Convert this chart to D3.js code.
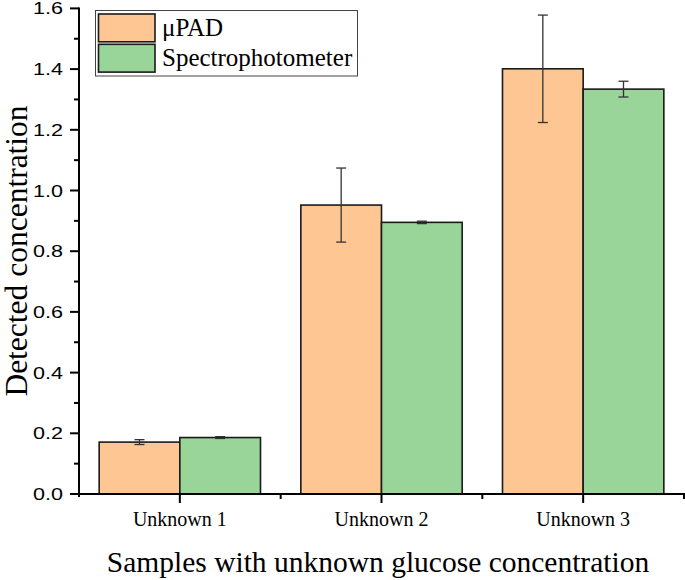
<!DOCTYPE html>
<html>
<head>
<meta charset="utf-8">
<script src="https://cdn.jsdelivr.net/npm/d3@7"></script>
<style>
html,body{margin:0;padding:0;background:#fff;}
svg{display:block;}
</style>
</head>
<body>
<svg id="chart" width="685" height="580"></svg>
<script>
const categories = ["Unknown 1", "Unknown 2", "Unknown 3"];
const seriesNames = ["μPAD", "Spectrophotometer"];
const upadValues = [0.171, 0.952, 1.401];
const upadErrors = [0.008, 0.122, 0.177];
const spectroValues = [0.186, 0.895, 1.334];
const spectroErrors = [0.003, 0.004, 0.026];
const yTicks = [0.0, 0.2, 0.4, 0.6, 0.8, 1.0, 1.2, 1.4, 1.6];
const yMinorTicks = [0.1, 0.3, 0.5, 0.7, 0.9, 1.1, 1.3, 1.5];
const colors = ["#fdc692", "#99d499"];

const svg = d3.select("#chart");
const plotLeft = 79, plotRight = 684, plotTop = 8.4, plotBottom = 494;

const x = d3.scaleBand().domain(categories).range([plotLeft, plotRight]).paddingInner(0).paddingOuter(0);
const x1 = d3.scaleBand().domain(seriesNames).range([0, x.bandwidth()]).paddingInner(0).paddingOuter(0.25);
const y = d3.scaleLinear().domain([0, 1.6]).range([plotBottom, plotTop]);

const data = categories.map((c, i) => ({
  cat: c,
  vals: [
    {s: seriesNames[0], v: upadValues[i], e: upadErrors[i]},
    {s: seriesNames[1], v: spectroValues[i], e: spectroErrors[i]}
  ]
}));

const groups = svg.append("g").selectAll("g").data(data).join("g")
  .attr("transform", d => `translate(${x(d.cat)},0)`);

groups.selectAll("rect").data(d => d.vals).join("rect")
  .attr("x", d => x1(d.s))
  .attr("y", d => y(d.v))
  .attr("width", x1.bandwidth())
  .attr("height", d => y(0) - y(d.v))
  .attr("fill", (d, i) => colors[i])
  .attr("stroke", "#1a1a1a")
  .attr("stroke-width", 1.6);

// error bars
const eb = groups.selectAll("g.err").data(d => d.vals).join("g").attr("class", "err");
eb.append("line")
  .attr("x1", d => x1(d.s) + x1.bandwidth() / 2)
  .attr("x2", d => x1(d.s) + x1.bandwidth() / 2)
  .attr("y1", d => y(d.v + d.e))
  .attr("y2", d => y(d.v - d.e))
  .attr("stroke", "#333").attr("stroke-width", 1.3);
eb.selectAll("line.cap").data(d => [{d, v: d.v + d.e}, {d, v: d.v - d.e}]).join("line")
  .attr("class", "cap")
  .attr("x1", o => x1(o.d.s) + x1.bandwidth() / 2 - 5)
  .attr("x2", o => x1(o.d.s) + x1.bandwidth() / 2 + 5)
  .attr("y1", o => y(o.v))
  .attr("y2", o => y(o.v))
  .attr("stroke", "#333").attr("stroke-width", 1.3);

// Y axis
const yAxis = svg.append("g");
yAxis.append("line").attr("x1", plotLeft).attr("x2", plotLeft).attr("y1", plotBottom + 3).attr("y2", plotTop - 1)
  .attr("stroke", "#000").attr("stroke-width", 2);
yAxis.selectAll("line.maj").data(yTicks).join("line").attr("class", "maj")
  .attr("x1", plotLeft - 9).attr("x2", plotLeft).attr("y1", d => y(d)).attr("y2", d => y(d))
  .attr("stroke", "#000").attr("stroke-width", 2);
yAxis.selectAll("line.min").data(yMinorTicks).join("line").attr("class", "min")
  .attr("x1", plotLeft - 5).attr("x2", plotLeft).attr("y1", d => y(d)).attr("y2", d => y(d))
  .attr("stroke", "#000").attr("stroke-width", 2);
yAxis.selectAll("text").data(yTicks).join("text")
  .attr("x", 63).attr("y", d => y(d) + 6)
  .attr("text-anchor", "end")
  .attr("font-family", "'Liberation Sans', Arial, sans-serif")
  .attr("font-size", 17)
  .attr("textLength", 30)
  .attr("lengthAdjust", "spacingAndGlyphs")
  .attr("fill", "#000")
  .text(d => d.toFixed(1));

// X axis
const xAxis = svg.append("g");
xAxis.append("line").attr("x1", plotLeft - 1).attr("x2", plotRight + 1).attr("y1", plotBottom).attr("y2", plotBottom)
  .attr("stroke", "#000").attr("stroke-width", 2);
xAxis.selectAll("line.maj").data(categories).join("line").attr("class", "maj")
  .attr("x1", d => x(d) + x.bandwidth() / 2).attr("x2", d => x(d) + x.bandwidth() / 2)
  .attr("y1", plotBottom).attr("y2", plotBottom + 9)
  .attr("stroke", "#000").attr("stroke-width", 2);
xAxis.selectAll("line.min").data(categories).join("line").attr("class", "min")
  .attr("x1", d => x(d) + x.bandwidth()).attr("x2", d => x(d) + x.bandwidth())
  .attr("y1", plotBottom).attr("y2", plotBottom + 5)
  .attr("stroke", "#000").attr("stroke-width", 2);
xAxis.selectAll("text").data(categories).join("text")
  .attr("x", d => x(d) + x.bandwidth() / 2).attr("y", 526)
  .attr("text-anchor", "middle")
  .attr("font-family", "'Liberation Serif', 'Times New Roman', serif")
  .attr("font-size", 20)
  .attr("fill", "#000")
  .text(d => d);

// Axis titles
svg.append("text")
  .attr("x", 378).attr("y", 572)
  .attr("text-anchor", "middle")
  .attr("font-family", "'Liberation Serif', 'Times New Roman', serif")
  .attr("font-size", 29.5)
  .attr("fill", "#000")
  .text("Samples with unknown glucose concentration");
svg.append("text")
  .attr("transform", "translate(27,251) rotate(-90)")
  .attr("text-anchor", "middle")
  .attr("font-family", "'Liberation Serif', 'Times New Roman', serif")
  .attr("font-size", 31.5)
  .attr("fill", "#000")
  .text("Detected concentration");

// Legend
const lg = svg.append("g");
lg.append("rect").attr("x", 95.5).attr("y", 10.5).attr("width", 262).attr("height", 65.5)
  .attr("fill", "#fff").attr("stroke", "#444").attr("stroke-width", 1);
seriesNames.forEach((s, i) => {
  lg.append("rect").attr("x", 98.5).attr("y", 14 + i * 30.3).attr("width", 56.5).attr("height", 27.8)
    .attr("fill", colors[i]).attr("stroke", "#1a1a1a").attr("stroke-width", 1.6);
  lg.append("text").attr("x", 162).attr("y", 36 + i * 29.7)
    .attr("font-family", "'Liberation Serif', 'Times New Roman', serif")
    .attr("font-size", 25)
    .attr("fill", "#000")
    .text(s);
});
</script>
</body>
</html>
